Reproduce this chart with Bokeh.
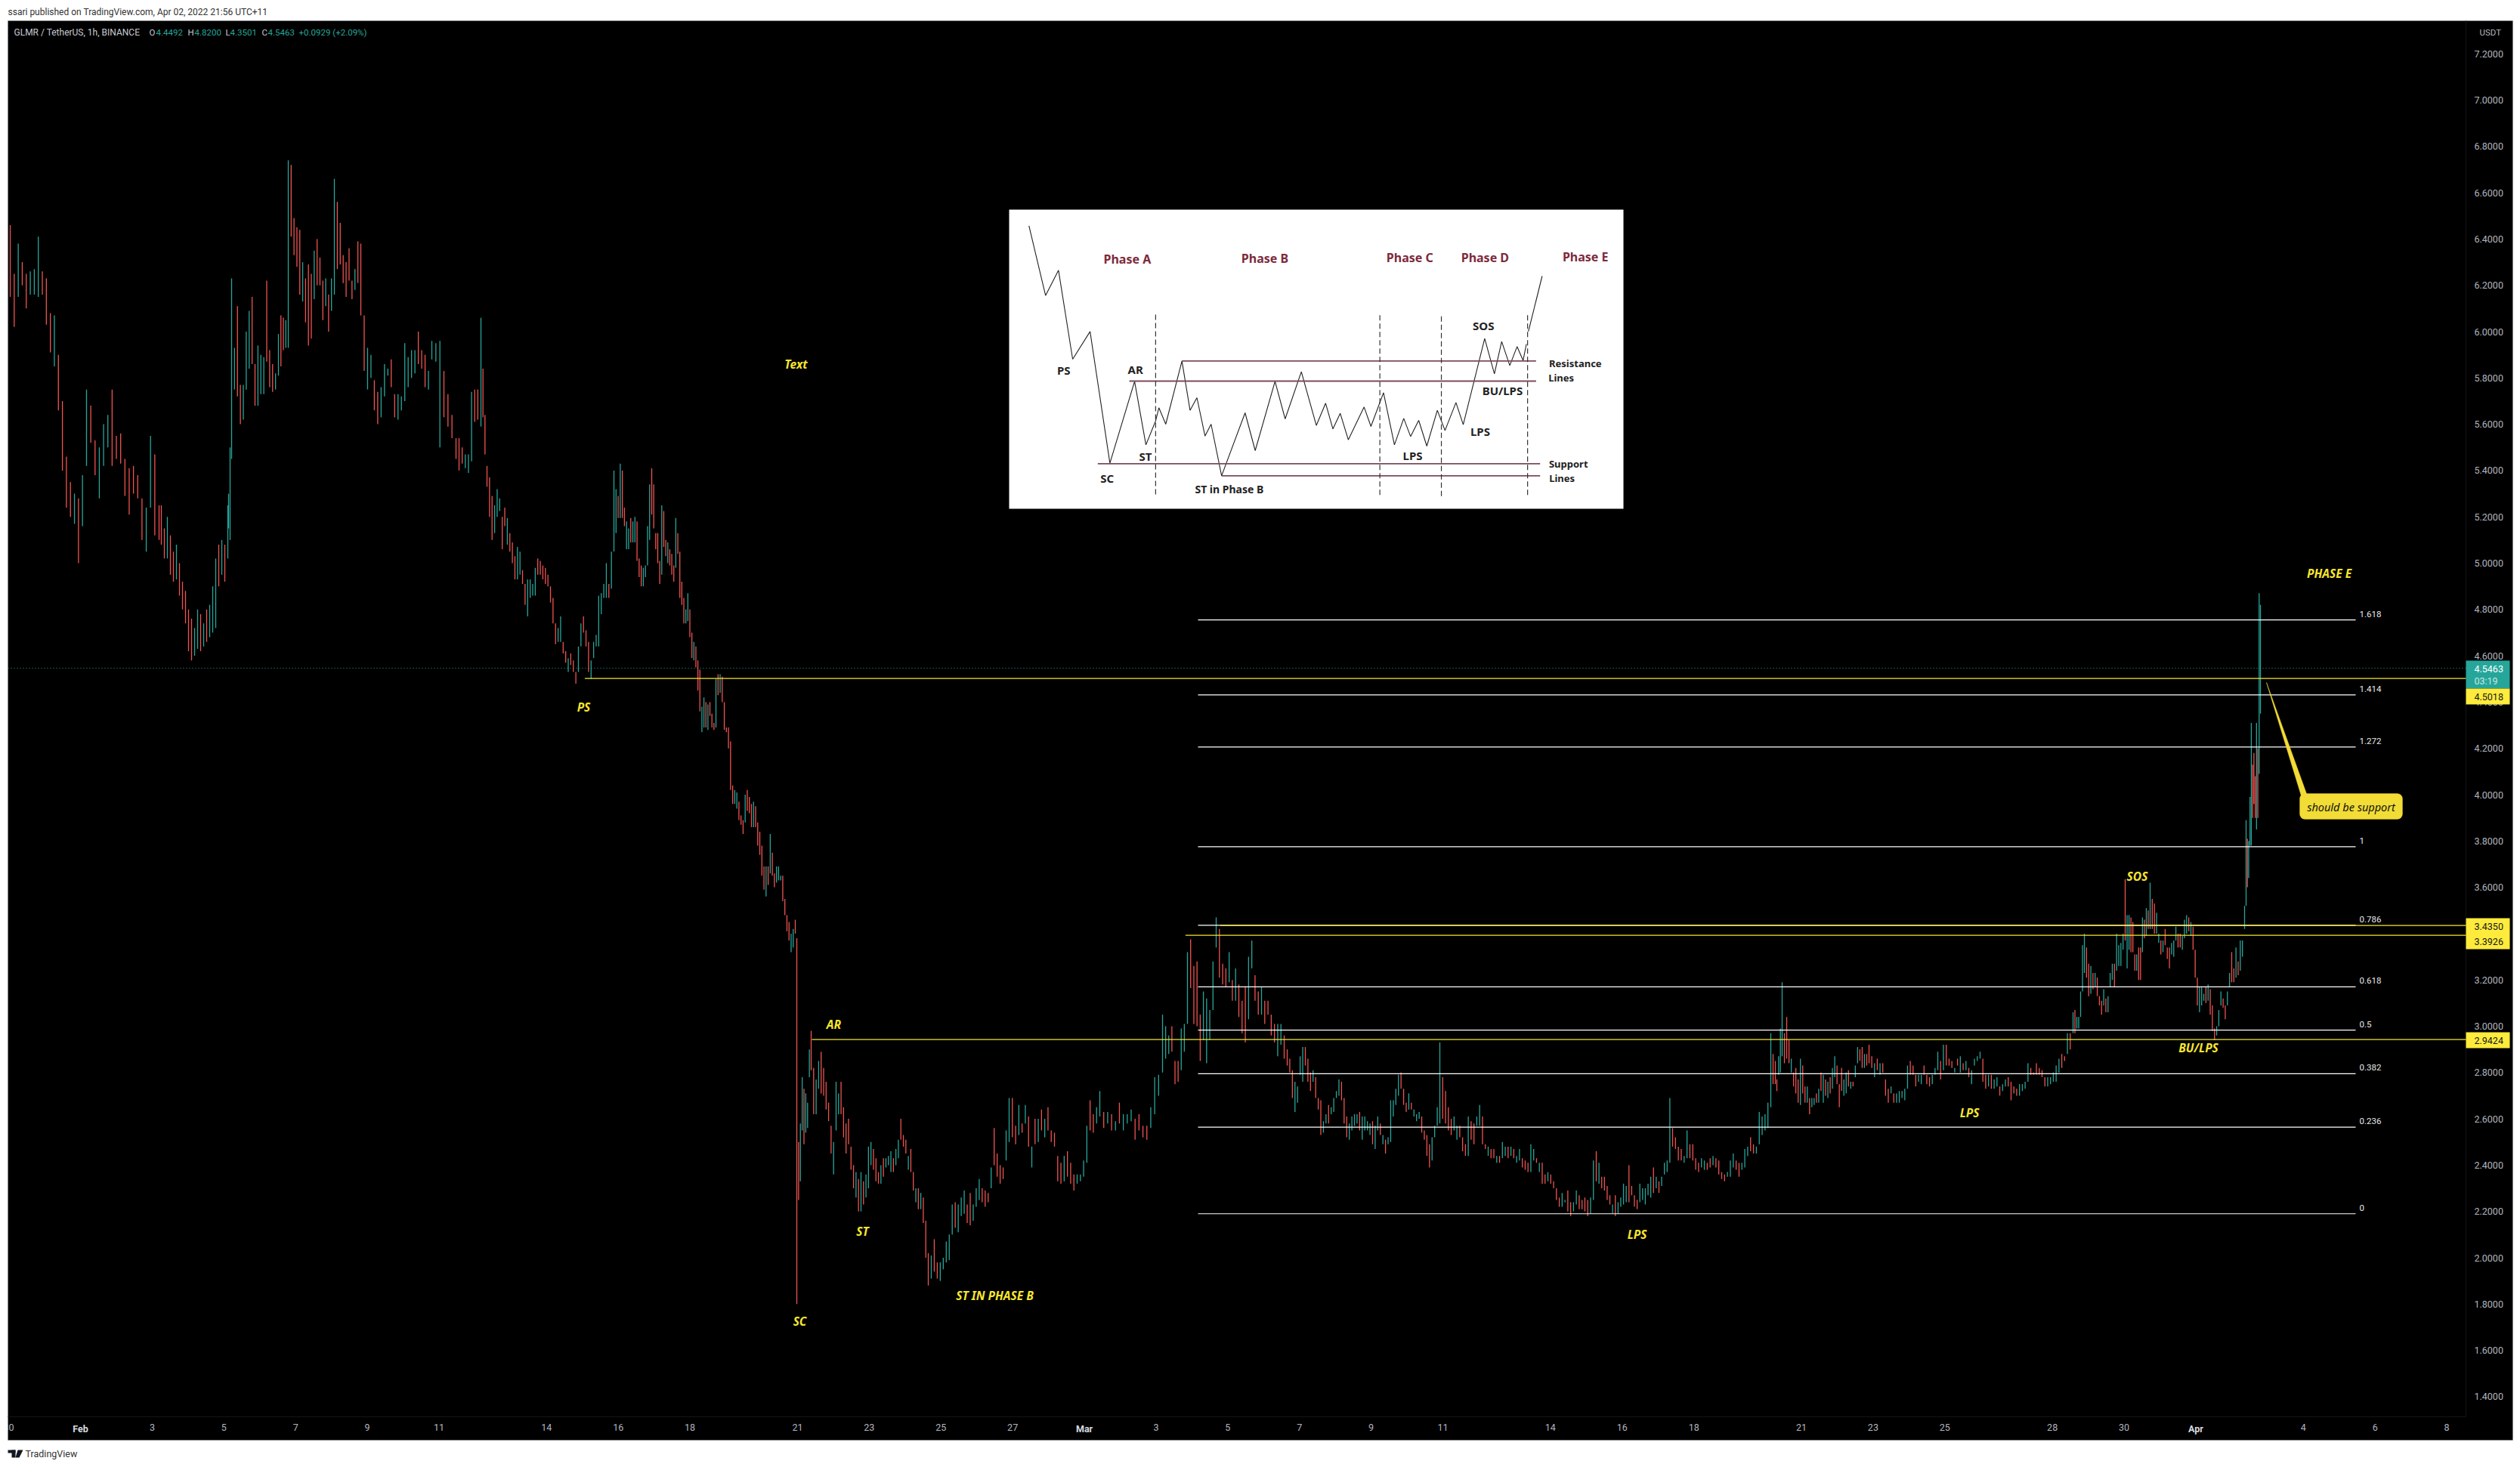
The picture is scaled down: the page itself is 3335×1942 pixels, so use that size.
import numpy as np
from bokeh.plotting import figure
from bokeh.models import (ColumnDataSource, BoxAnnotation, Label, FixedTicker, NumeralTickFormatter,
                          Range1d, PolyAnnotation)
from bokeh.embed import file_html
from bokeh.resources import INLINE
from bokeh.core.properties import value

# ---------- DATA: hourly chart read by eye, bars as (high, low, up) in price, hours since 1 Feb 00:00 ----------
seg_a = [(6.46,6.15,0),(6.25,6.02,0),(6.38,6.15,1),(6.30,6.20,0),(6.25,6.10,0),(6.26,6.16,1),(6.27,6.16,1),(6.41,6.15,1),(6.26,6.16,0),(6.23,6.03,0),(6.08,5.91,0),(6.07,5.85,1),(5.90,5.66,0),(5.70,5.40,0),(5.46,5.24,0),(5.35,5.20,0),(5.30,5.17,1),(5.28,5.00,0),(5.38,5.16,1),(5.75,5.42,1),(5.68,5.52,0),(5.53,5.38,0),(5.50,5.28,1),(5.60,5.42,1),(5.64,5.50,1),(5.75,5.42,0),(5.55,5.45,0),(5.56,5.43,0),(5.45,5.29,0),(5.41,5.21,0),(5.42,5.30,0),(5.38,5.28,0),(5.28,5.10,0),(5.24,5.05,1),(5.55,5.24,1),(5.47,5.12,0),(5.25,5.10,0)]
seg_b = [(5.25,5.08,0),(5.15,5.02,0),(5.20,5.02,1),(5.12,4.95,0),(5.05,4.92,0),(5.08,4.93,1),(5.00,4.86,0),(4.92,4.80,0),(4.88,4.74,0),(4.80,4.62,0),(4.76,4.58,0),(4.72,4.60,1),(4.80,4.63,1),(4.78,4.62,0),(4.74,4.64,1),(4.80,4.66,0),(4.82,4.68,1),(4.90,4.70,1),(5.02,4.72,1),(5.08,4.90,0),(5.10,4.95,1),(5.08,4.92,0),(5.25,5.02,1)]
seg_c = [(5.30,5.15,1),(5.50,5.10,1),(6.23,5.45,1),(5.93,5.75,1),(6.11,5.72,0),(5.77,5.60,0),(5.77,5.62,1),(6.00,5.75,1),(6.09,5.84,1),(6.15,5.86,0),(5.86,5.68,0),(5.94,5.68,1),(5.90,5.73,1),(5.89,5.73,1),(6.22,5.87,0),(5.92,5.76,0),(5.86,5.74,0),(5.82,5.75,1),(5.99,5.81,1),(6.07,5.85,0),(6.06,5.92,0),(6.05,5.93,1),(6.74,5.93,1),(6.72,6.41,0),(6.49,6.33,0),(6.45,6.28,0),(6.44,6.16,0),(6.30,6.13,1),(6.23,6.04,0),(6.29,5.94,0),(6.25,5.97,0),(6.35,6.14,1),(6.40,6.20,0),(6.32,6.20,0),(6.22,6.05,0),(6.23,6.11,1),(6.16,6.00,0),(6.23,6.09,1),(6.66,6.16,1),(6.56,6.27,0),(6.47,6.29,0),(6.33,6.21,0),(6.30,6.15,0),(6.36,6.22,0),(6.22,6.14,0),(6.27,6.18,1),(6.39,6.21,0),(6.38,6.07,0),(6.07,5.83,0),(5.93,5.75,1),(5.90,5.80,1),(5.79,5.66,0),(5.74,5.60,0),(5.76,5.63,1),(5.86,5.72,1),(5.84,5.81,1),(5.88,5.76,0),(5.73,5.63,0),(5.73,5.62,1),(5.72,5.66,1),(5.95,5.70,1),(5.89,5.76,1),(5.92,5.80,1),(5.92,5.82,1),(6.00,5.86,0),(5.92,5.84,0),(5.90,5.76,0),(5.83,5.75,1),(5.96,5.88,1),(5.95,5.87,1),(5.96,5.50,1),(5.83,5.63,0),(5.73,5.59,0),(5.64,5.54,0),(5.54,5.45,0)]
seg_d = [(5.54,5.40,0),(5.50,5.43,0),(5.47,5.41,1),(5.47,5.39,1),(5.74,5.44,1),(5.75,5.61,0),(5.75,5.62,0),(6.06,5.59,1),(5.84,5.63,0),(5.64,5.47,0),(5.42,5.33,0),(5.37,5.20,0),(5.29,5.10,0),(5.25,5.13,1),(5.32,5.20,1),(5.28,5.225,1),(5.20,5.06,0),(5.24,5.16,0),(5.195,5.08,1),(5.13,5.05,0),(5.09,5.00,0),(5.03,4.93,0),(5.07,4.93,1),(5.05,4.95,1),(4.97,4.91,0),(4.91,4.82,0),(4.93,4.77,1),(4.93,4.85,1),(4.91,4.86,1),(4.98,4.86,1),(5.02,4.95,0),(5.01,4.95,0),(4.99,4.93,0),(4.98,4.91,0),(4.95,4.90,0),(4.90,4.83,0),(4.85,4.74,0),(4.74,4.65,0),(4.72,4.66,1),(4.77,4.66,1),(4.66,4.61,0),(4.62,4.57,0),(4.59,4.53,1),(4.61,4.56,0),(4.58,4.53,0),(4.53,4.48,0),(4.64,4.53,1),(4.74,4.64,1),(4.77,4.70,0),(4.71,4.64,0),(4.66,4.53,0),(4.58,4.50,1),(4.66,4.59,1),(4.69,4.64,1),(4.86,4.64,1),(4.87,4.78,1),(4.91,4.85,1),(5.00,4.85,1),(4.91,4.85,0),(5.05,4.89,1),(5.40,5.05,1),(5.32,5.13,1),(5.29,5.195,0),(5.43,5.195,1),(5.40,5.195,0),(5.24,5.16,0),(5.18,5.06,1),(5.15,5.06,1),(5.195,5.09,0),(5.18,5.09,1),(5.20,5.09,1),(5.18,5.01,0),(5.02,4.94,0),(4.99,4.90,0),(4.98,4.90,1),(4.99,4.94,1),(5.16,4.99,1),(5.34,5.10,1),(5.41,5.21,0),(5.34,5.15,0),(5.13,5.06,0),(5.13,5.00,0),(5.01,4.91,0),(5.25,4.95,1),(5.225,5.07,0),(5.10,5.03,0),(5.09,5.00,1),(5.06,4.99,0),(5.04,4.95,0),(4.99,4.92,0),(5.195,4.98,1),(5.13,5.04,0),(5.05,4.85,0),(4.92,4.82,0),(4.85,4.74,0),(4.80,4.74,1),(4.87,4.75,1),(4.80,4.68,0),(4.70,4.59,0),(4.66,4.58,1),(4.64,4.55,0),(4.58,4.45,0),(4.54,4.36,0),(4.38,4.27,1),(4.42,4.29,1),(4.40,4.29,0),(4.39,4.28,1),(4.40,4.34,0),(4.35,4.29,0),(4.31,4.28,0),(4.50,4.29,1),(4.52,4.43,0),(4.52,4.44,1),(4.51,4.40,0),(4.40,4.28,0),(4.29,4.27,0),(4.29,4.20,0),(4.23,4.02,0),(4.04,3.96,0),(4.02,3.96,1),(4.01,3.94,1),(3.97,3.89,0),(3.91,3.87,0),(3.89,3.83,0),(4.00,3.88,1),(4.02,3.93,0),(3.99,3.92,0),(3.96,3.86,0),(3.97,3.86,1),(3.95,3.86,0),(3.88,3.78,0),(3.84,3.74,0),(3.78,3.65,0),(3.69,3.59,0),(3.69,3.56,1),(3.69,3.61,0),(3.83,3.66,1),(3.75,3.65,0),(3.66,3.60,0),(3.69,3.62,1),(3.69,3.63,1),(3.65,3.63,1),(3.65,3.54,0),(3.55,3.48,0),(3.48,3.41,0),(3.45,3.37,0),(3.40,3.32,1),(3.42,3.34,1),(3.46,3.40,0)]
seg_e = [(3.38,1.80,0),(2.50,2.25,0),(2.58,2.33,1),(2.78,2.55,1),(2.73,2.49,0),(2.71,2.54,1),(2.67,2.56,1),(2.90,2.78,1),(2.98,2.81,0),(2.82,2.62,0),(2.77,2.62,1),(2.85,2.73,1),(2.89,2.71,0),(2.82,2.70,0),(2.76,2.64,0),(2.67,2.59,0),(2.57,2.45,0),(2.50,2.36,1),(2.76,2.55,1),(2.71,2.62,1),(2.76,2.62,0),(2.65,2.52,0),(2.58,2.45,0),(2.60,2.49,0),(2.48,2.38,0),(2.40,2.30,0),(2.37,2.26,1),(2.34,2.20,0),(2.37,2.20,1),(2.33,2.23,0),(2.36,2.26,1),(2.48,2.30,1),(2.50,2.40,1),(2.47,2.38,0),(2.43,2.33,0),(2.37,2.32,0),(2.40,2.32,1),(2.43,2.35,0),(2.43,2.39,1),(2.44,2.40,1),(2.46,2.37,1),(2.43,2.37,0),(2.47,2.40,1),(2.51,2.43,1),(2.60,2.51,0),(2.53,2.48,0),(2.51,2.45,0),(2.44,2.38,1),(2.47,2.37,0),(2.37,2.29,0),(2.30,2.24,1),(2.30,2.21,0),(2.28,2.21,1),(2.26,2.15,0),(2.16,2.00,0),(2.02,1.88,0),(2.01,1.91,1),(2.08,1.94,0),(1.98,1.91,0),(1.98,1.90,1),(2.00,1.95,1),(2.07,1.98,1),(2.10,1.99,1),(2.23,2.10,1),(2.24,2.13,0),(2.23,2.11,1),(2.26,2.18,1),(2.29,2.19,1),(2.23,2.15,0),(2.28,2.14,0),(2.23,2.16,1),(2.30,2.22,1),(2.34,2.25,1),(2.30,2.24,0),(2.29,2.22,0),(2.28,2.24,0),(2.39,2.30,1),(2.56,2.40,0),(2.45,2.35,0),(2.40,2.32,0),(2.39,2.34,0),(2.55,2.42,1),(2.69,2.50,1),(2.69,2.52,0),(2.57,2.49,0),(2.66,2.53,1),(2.58,2.54,0),(2.66,2.58,1),(2.61,2.48,0),(2.48,2.39,1),(2.60,2.49,0),(2.60,2.50,1),(2.64,2.55,0),(2.60,2.52,1),(2.65,2.55,0),(2.55,2.50,0),(2.54,2.48,0),(2.44,2.33,0),(2.41,2.32,0),(2.44,2.33,1),(2.46,2.35,0),(2.41,2.32,0),(2.36,2.29,0),(2.36,2.32,1),(2.36,2.33,1),(2.42,2.35,1),(2.57,2.41,1),(2.68,2.55,0),(2.62,2.54,0),(2.65,2.58,1),(2.72,2.61,1),(2.63,2.56,0),(2.63,2.58,1),(2.62,2.55,0),(2.59,2.55,1),(2.67,2.58,0),(2.62,2.55,1),(2.62,2.58,1),(2.64,2.59,1),(2.60,2.51,0),(2.62,2.55,0),(2.57,2.52,0),(2.57,2.51,0),(2.65,2.56,1),(2.78,2.62,1),(2.79,2.70,1),(3.05,2.80,1),(3.00,2.86,1),(2.96,2.88,1),(3.00,2.89,0),(2.85,2.75,0),(2.85,2.76,0),(2.99,2.81,1),(3.01,2.89,1),(3.32,3.01,1),(3.375,3.165,0),(3.26,3.01,0),(3.28,3.00,0),(3.05,2.85,0),(3.15,2.94,1),(3.12,2.84,1),(3.07,2.94,1),(3.28,3.07,1),(3.47,3.34,1),(3.42,3.21,0),(3.27,3.18,0),(3.25,3.17,0),(3.32,3.19,1),(3.20,3.11,0),(3.25,3.11,1),(3.18,3.04,0),(3.11,2.97,0),(3.17,2.93,0),(3.30,3.03,1),(3.37,3.25,1),(3.22,3.11,0),(3.15,3.05,0),(3.17,3.05,1),(3.11,3.01,0),(3.11,3.05,0),(3.05,2.96,0),(3.01,2.93,0),(3.01,2.87,1),(3.01,2.92,1),(2.96,2.86,0)]
seg_f = [(2.90,2.83,0),(2.86,2.80,0),(2.81,2.69,0),(2.76,2.63,1),(2.74,2.67,1),(2.87,2.79,1),(2.91,2.76,1),(2.91,2.83,0),(2.86,2.76,0),(2.80,2.72,0),(2.81,2.76,1),(2.78,2.69,0),(2.69,2.64,0),(2.68,2.53,0),(2.59,2.54,1),(2.62,2.58,1),(2.66,2.58,0),(2.65,2.62,1),(2.69,2.63,1),(2.72,2.69,1),(2.77,2.70,1),(2.76,2.68,0),(2.69,2.58,0),(2.61,2.52,0),(2.58,2.51,1),(2.61,2.55,1),(2.62,2.57,1),(2.62,2.58,1),(2.63,2.55,0),(2.61,2.51,1),(2.61,2.55,1),(2.59,2.55,1),(2.58,2.53,1),(2.59,2.49,0),(2.57,2.47,1),(2.61,2.55,1),(2.58,2.53,0),(2.53,2.49,1),(2.51,2.45,0),(2.52,2.49,1),(2.68,2.50,1),(2.68,2.61,1),(2.73,2.66,1),(2.79,2.70,1),(2.80,2.73,0),(2.73,2.66,0),(2.67,2.63,0),(2.71,2.64,1),(2.67,2.64,0),(2.64,2.61,1),(2.62,2.59,1),(2.63,2.60,1),(2.61,2.54,0),(2.55,2.51,0),(2.53,2.44,0),(2.49,2.39,0),(2.52,2.42,1),(2.57,2.52,1),(2.65,2.57,1),(2.93,2.58,1),(2.78,2.60,0),(2.72,2.58,0),(2.65,2.55,0),(2.60,2.53,0),(2.61,2.55,1),(2.57,2.51,1),(2.57,2.52,0),(2.52,2.46,0),(2.49,2.44,0),(2.61,2.44,1),(2.59,2.51,0),(2.58,2.49,0),(2.61,2.57,1),(2.66,2.57,1),(2.61,2.49,0),(2.49,2.47,0),(2.48,2.44,1),(2.47,2.43,0),(2.47,2.43,0),(2.44,2.41,1),(2.44,2.41,0),(2.50,2.43,1),(2.48,2.44,1),(2.48,2.43,0),(2.48,2.44,1),(2.47,2.43,0),(2.44,2.41,1),(2.47,2.42,1),(2.43,2.39,0),(2.42,2.38,0),(2.41,2.37,0),(2.49,2.37,1),(2.47,2.42,1),(2.43,2.41,0),(2.41,2.37,1),(2.41,2.32,0),(2.36,2.32,0),(2.37,2.33,1),(2.36,2.32,0),(2.33,2.30,0),(2.30,2.25,0),(2.26,2.22,0),(2.28,2.22,1),(2.25,2.24,1),(2.29,2.20,0),(2.24,2.18,0),(2.24,2.20,1),(2.29,2.23,1),(2.27,2.21,0),(2.25,2.21,0),(2.26,2.20,0),(2.25,2.18,0),(2.26,2.19,1),(2.42,2.25,1),(2.46,2.33,0),(2.41,2.32,1),(2.35,2.30,0),(2.35,2.29,0),(2.31,2.25,0),(2.27,2.23,0),(2.23,2.19,1),(2.27,2.18,0),(2.24,2.19,1),(2.26,2.22,1),(2.32,2.23,1),(2.31,2.24,1),(2.40,2.24,0),(2.31,2.27,0),(2.27,2.22,0),(2.25,2.21,0),(2.32,2.24,1),(2.30,2.25,1),(2.30,2.23,1),(2.32,2.27,1),(2.35,2.26,1),(2.39,2.28,0),(2.35,2.30,1),(2.33,2.28,0),(2.35,2.31,1),(2.41,2.36,1),(2.42,2.37,1),(2.69,2.41,1),(2.56,2.48,0),(2.52,2.47,0),(2.48,2.42,0),(2.47,2.42,0),(2.44,2.41,1),(2.55,2.43,1),(2.49,2.43,0),(2.49,2.42,0),(2.43,2.38,0),(2.41,2.37,0),(2.43,2.39,1),(2.42,2.38,1),(2.41,2.38,0),(2.43,2.39,0),(2.44,2.40,1),(2.43,2.39,0),(2.42,2.36,0),(2.37,2.34,0),(2.36,2.33,0),(2.37,2.35,1),(2.42,2.35,1),(2.45,2.39,1),(2.42,2.38,0),(2.41,2.35,0),(2.41,2.38,1),(2.47,2.39,1),(2.48,2.44,1),(2.52,2.46,0),(2.49,2.45,0),(2.48,2.45,1),(2.63,2.49,1),(2.61,2.53,1),(2.62,2.55,1),(2.67,2.56,1),(2.97,2.65,1),(2.88,2.75,0),(2.85,2.75,0)]
seg_g = [(2.77,2.72,0),(2.87,2.79,1),(2.99,2.80,1),(3.19,2.87,1),(2.97,2.84,0),(3.04,2.86,0),(2.94,2.84,0),(2.86,2.80,1),(2.80,2.74,0),(2.82,2.71,0),(2.77,2.67,0),(2.86,2.66,1),(2.83,2.71,0),(2.74,2.67,0),(2.74,2.67,1),(2.69,2.62,0),(2.69,2.65,1),(2.69,2.66,1),(2.71,2.67,0),(2.73,2.67,1),(2.80,2.72,0),(2.79,2.67,1),(2.77,2.70,0),(2.76,2.69,1),(2.78,2.71,0),(2.82,2.73,1),(2.87,2.78,1),(2.83,2.75,0),(2.75,2.65,0),(2.82,2.72,0),(2.77,2.70,1),(2.80,2.71,1),(2.81,2.74,0),(2.76,2.73,1),(2.76,2.74,0),(2.83,2.78,1),(2.91,2.84,1),(2.90,2.85,0),(2.91,2.82,0),(2.88,2.82,1),(2.88,2.83,0),(2.92,2.84,0),(2.87,2.82,0),(2.84,2.78,1),(2.86,2.81,0),(2.84,2.79,1),(2.84,2.80,0),(2.77,2.70,0),(2.73,2.67,0),(2.74,2.71,1),(2.71,2.67,0),(2.71,2.67,1),(2.72,2.67,1),(2.72,2.69,1),(2.73,2.68,1),(2.83,2.73,1),(2.85,2.79,0),(2.83,2.79,0),(2.79,2.74,0),(2.79,2.76,1),(2.79,2.75,1),(2.83,2.79,0),(2.79,2.75,0),(2.78,2.74,0),(2.79,2.75,1),(2.82,2.79,1),(2.89,2.81,1),(2.85,2.77,0),(2.92,2.81,1),(2.92,2.83,0),(2.86,2.83,0),(2.85,2.82,0),(2.82,2.80,1),(2.86,2.83,0),(2.87,2.80,1),(2.84,2.81,0),(2.85,2.81,1),(2.82,2.78,0),(2.81,2.75,1),(2.86,2.83,1),(2.87,2.85,1),(2.89,2.86,1),(2.86,2.76,0),(2.79,2.73,0),(2.79,2.74,1),(2.79,2.73,0),(2.77,2.73,1),(2.78,2.74,1),(2.74,2.70,0),(2.75,2.72,1),(2.77,2.74,1),(2.78,2.74,0),(2.76,2.68,0),(2.74,2.71,0),(2.73,2.70,0),(2.75,2.70,1),(2.75,2.72,1),(2.76,2.73,1),(2.84,2.76,1),(2.82,2.79,0),(2.80,2.79,0),(2.84,2.79,0),(2.82,2.79,0),(2.81,2.78,0),(2.78,2.74,0),(2.78,2.74,1),(2.78,2.75,1),(2.80,2.76,1),(2.83,2.76,1),(2.86,2.80,1),(2.88,2.82,0),(2.87,2.85,0),(2.97,2.88,1),(2.97,2.90,0),(3.06,2.97,1),(3.07,2.97,0),(3.04,2.99,1),(3.04,2.99,1),(3.15,3.04,1),(3.35,3.15,1),(3.40,3.23,1),(3.34,3.21,0),(3.27,3.13,0),(3.26,3.14,1),(3.23,3.16,0),(3.23,3.17,1),(3.21,3.13,0),(3.13,3.09,0),(3.11,3.05,0),(3.16,3.09,1),(3.12,3.06,0),(3.13,3.06,1),(3.23,3.17,1),(3.27,3.20,1),(3.27,3.17,0),(3.40,3.24,1),(3.35,3.26,1),(3.36,3.26,1),(3.40,3.33,1),(3.635,3.37,0),(3.48,3.25,1),(3.48,3.33,1),(3.47,3.32,0),(3.45,3.32,0),(3.31,3.24,0),(3.31,3.24,1),(3.34,3.20,0),(3.34,3.20,0),(3.47,3.32,1),(3.46,3.38,0),(3.51,3.39,1),(3.50,3.42,0),(3.62,3.42,1),(3.55,3.42,0),(3.53,3.40,0),(3.49,3.40,1),(3.40,3.36,1),(3.37,3.31,0),(3.37,3.32,1),(3.42,3.35,0),(3.34,3.29,0),(3.34,3.25,0),(3.36,3.31,1),(3.37,3.30,1),(3.43,3.37,1),(3.40,3.34,0),(3.40,3.34,0),(3.39,3.33,1),(3.46,3.38,1),(3.48,3.40,1),(3.47,3.41,0),(3.45,3.39,1),(3.43,3.33,0),(3.33,3.21,0),(3.21,3.09,0),(3.17,3.06,1),(3.17,3.09,1),(3.14,3.11,1),(3.17,3.10,0),(3.18,3.11,1),(3.16,3.05,0),(3.09,2.98,0),(2.99,2.94,0),(3.00,2.96,1),(3.07,3.00,1),(3.15,3.09,1),(3.12,3.08,0),(3.09,3.03,0),(3.15,3.09,1),(3.23,3.17,1),(3.32,3.19,0),(3.25,3.19,0),(3.34,3.21,1),(3.28,3.22,0),(3.37,3.24,1),(3.37,3.30,1),(3.52,3.42,1)]
seg_h = [(3.89,3.52,1),(3.81,3.60,0),(3.80,3.64,1),(3.99,3.78,1),(4.31,3.78,1),(4.13,3.90,0),(4.18,3.96,0),(4.08,3.90,0),(4.31,3.85,1),(4.20,3.90,0),(4.87,4.09,1),(4.82,4.35,1)]

# where each run of bars sits: start/end page x, plus peaks located by their high (high, page x)
seg_span = [(13,210),(213,301),(302,603),(607,1052),(1054,1699),(1703,2349),(2351,2970),(2972,2991)]
seg_pins = [[(5.75,114)],[],[(6.23,306),(5.99,368),(6.74,381),(6.66,442),(6.38,477),(5.96,571)],
            [(6.06,636),(5.42,644),(5.40,812),(5.41,862),(4.50,947)],
            [(2.98,1073),(2.02,1228),(2.69,1335),(2.72,1455),(3.05,1538),(3.32,1571),(3.47,1609)],
            [(2.93,1905),(2.46,2112),(2.56,2213),(2.97,2343)],
            [(3.19,2358),(2.92,2473),(2.89,2564),(3.06,2743),(3.40,2758),(3.635,2812),(3.62,2845)],[]]

price_ticks = [1.4,1.6,1.8,2.0,2.2,2.4,2.6,2.8,3.0,3.2,3.4,3.6,3.8,4.0,4.2,4.4,4.6,4.8,5.0,5.2,5.4,5.6,5.8,6.0,6.2,6.4,6.6,6.8,7.0,7.2]
time_hours = [-48,48,96,144,192,240,312,360,408,480,528,576,624,720,768,816,864,912,984,1032,1080,1152,1200,1248,1320,1368,1488,1536,1584]
time_labels = ["30","3","5","7","9","11","14","16","18","21","23","25","27","3","5","7","9","11","14","16","18","21","23","25","28","30","4","6","8"]
month_hours = [0,672,1416]
month_labels = ["Feb","Mar","Apr"]
fib_levels = ["0","0.236","0.382","0.5","0.618","0.786","1","1.272","1.414","1.618"]
fib_prices = [2.19,2.564,2.795,2.983,3.17,3.436,3.775,4.206,4.431,4.755]
key_prices = [4.5018,3.435,3.3926,2.9424]
key_starts = [337.6,763,739.7,489.6]
last_price = 4.5463

# inset sketch, read in the sketch's own pixels
inset_path_x = [77,118,150,185,228,277,338,366,390,398,415,455,475,492,512,527,553,611,636,685,710,750,787,810,828,846,866,905,922,953,980,1003,1020,1040,1060,1086,1105,1132,1150,1203,1227,1245,1265,1283,1298,1306]
inset_path_y = [115,392,292,645,535,1058,733,985,890,838,903,652,848,798,950,903,1108,858,1008,733,882,695,908,820,922,860,965,835,912,778,985,880,952,888,990,848,928,817,905,563,703,575,670,595,650,585]
inset_rise_x = [1311,1345]
inset_rise_y = [535,315]
inset_levels = [(455,1330,652),(325,1330,732),(247,1340,1060),(553,1340,1108)]
inset_dashes = [(390,468,1185),(944,470,1190),(1096,475,1195),(1309,470,1195)]

# ---------- page pixel <-> data helpers for annotation placement ----------
PX_FEB1, PX_PER_H = 106.0, 1.977
PY_5, PY_PER_USD = 745.0, 306.5
def hx(px): return (px - PX_FEB1) / PX_PER_H
def py(y): return 5 - (y - PY_5) / PY_PER_USD
def ix(v): return hx(1320 + v / 1.867)
def iy(v): return py(260 + v / 3)

BLACK_BG = "#000000"; TEAL = "#26a69a"; RED = "#ef5350"; YEL = "#f7e62e"; TAG = "#ffeb3b"; AXTXT = "#b2b5be"
FONT = "Roboto"
W, H = 3330, 1935

p = figure(width=W, height=H, x_range=Range1d(hx(0), hx(W)), y_range=Range1d(py(H), py(0)),
           y_axis_location="right", output_backend="svg", toolbar_location=None,
           min_border=0, background_fill_color="white", border_fill_color="white", outline_line_color=None)
p.grid.visible = False

# pane background
p.add_layout(BoxAnnotation(left=hx(10), right=hx(3325), top=py(27), bottom=py(1906),
                           fill_color=BLACK_BG, fill_alpha=1, line_color="#9598a1", line_width=1, level="underlay"))

ax = p.yaxis[0]
ax.fixed_location = hx(3263)
ax.ticker = FixedTicker(ticks=price_ticks)
ax.formatter = NumeralTickFormatter(format="0.0000")
ax.major_label_text_color = AXTXT; ax.major_label_text_font = FONT; ax.major_label_text_font_size = "12.5px"
ax.major_label_standoff = 11; ax.major_tick_line_color = None; ax.minor_tick_line_color = None
ax.major_tick_out = 0; ax.major_tick_in = 0; ax.axis_line_color = None

bx = p.xaxis[0]
bx.fixed_location = py(1875)
bx.ticker = FixedTicker(ticks=time_hours)
bx.major_label_overrides = {h: l for h, l in zip(time_hours, time_labels)}
bx.major_label_text_color = AXTXT; bx.major_label_text_font = FONT; bx.major_label_text_font_size = "12.5px"
bx.major_label_standoff = 9; bx.major_tick_line_color = None; bx.minor_tick_line_color = None
bx.major_tick_out = 0; bx.major_tick_in = 0; bx.axis_line_color = None

# faint separators of the two axes
p.line([hx(10), hx(3263), hx(3263)], [py(1875), py(1875), py(27)], line_color="#141414", line_width=1)

# bars
xs, hi, lo, col = [], [], [], []
for seg, (x0, x1), pins in zip([seg_a, seg_b, seg_c, seg_d, seg_e, seg_f, seg_g, seg_h], seg_span, seg_pins):
    highs = [s[0] for s in seg]
    idx, pos = [0], [x0]
    for val, x in pins:
        i = highs.index(val)
        if i > idx[-1]:
            idx.append(i); pos.append(x)
        elif i == 0:
            pos[0] = x
    if idx[-1] != len(seg) - 1:
        idx.append(len(seg) - 1); pos.append(x1)
    page_x = np.interp(np.arange(len(seg)), idx, pos)
    for (a, b, u), x in zip(seg, page_x):
        xs.append(hx(x)); hi.append(a); lo.append(b); col.append(TEAL if u else RED)
src = ColumnDataSource(dict(x=xs, hi=hi, lo=lo, c=col))
p.segment("x", "lo", "x", "hi", source=src, line_color="c", line_width=1.3)

# last price dotted line
p.line([hx(10), hx(3263)], [last_price, last_price], line_color=TEAL, line_width=1, line_dash="1 3")

# fib
fib_x0, fib_x1 = hx(1585), hx(3117)
p.segment([fib_x0]*len(fib_prices), fib_prices, [fib_x1]*len(fib_prices), fib_prices, line_color="#ffffff", line_width=1.2)
p.text([hx(3122)]*len(fib_prices), fib_prices, text=fib_levels, text_font=value(FONT), text_font_size="11.5px",
       text_color="#e8e8e8", text_baseline="middle", y_offset=-8)

# yellow levels
p.segment(key_starts, key_prices, [hx(3263)]*4, key_prices, line_color=YEL, line_width=1.3)

def lab(x, y, t, size, color, style="normal", align="left", base="middle", font=FONT):
    p.add_layout(Label(x=hx(x), y=py(y), text=t, text_font=font, text_font_size=f"{size}px", text_color=color,
                       text_font_style=style, text_align=align, text_baseline=base))

# annotations (yellow italic)
for x, y, t in [(772,935,"PS"),(1103,1355,"AR"),(1058,1748,"SC"),(1141,1629,"ST"),(1316,1714,"ST IN PHASE B"),
                (2166,1633,"LPS"),(2606,1472,"LPS"),(2909,1386,"BU/LPS"),(2828,1159,"SOS"),(3082,758,"PHASE E"),(1053,481,"Text")]:
    lab(x, y, t, 15.5, YEL, "bold italic", "center", font="Noto Sans")

# callout
p.patch([hx(2999), hx(3045), hx(3053)], [py(903), py(1053), py(1053)], fill_color="#f2dc36", line_color="#f2dc36", line_width=0.5)
p.add_layout(BoxAnnotation(left=hx(3043), right=hx(3179), top=py(1050), bottom=py(1084), fill_color="#f2dc36", fill_alpha=1,
                           line_color="#f2dc36", border_radius=7))
lab(3111, 1067, "should be support", 14.5, "#111111", "italic", "center", font="Noto Sans")

# inset
p.quad(left=[hx(1335)], right=[hx(2148)], top=[py(277)], bottom=[py(673)], fill_color="white", line_color=None)
p.line([ix(v) for v in inset_path_x], [iy(v) for v in inset_path_y], line_color="#222222", line_width=1.1)
p.line([ix(v) for v in inset_rise_x], [iy(v) for v in inset_rise_y], line_color="#222222", line_width=1.1)
for a, b, y in inset_levels:
    p.line([ix(a), ix(b)], [iy(y), iy(y)], line_color="#7b4a5c", line_width=1.8)
for x, a, b in inset_dashes:
    p.line([ix(x), ix(x)], [iy(a), iy(b)], line_color="#333333", line_width=1.2, line_dash="7 4")
def ilab(xz, yz, t, size, color, style="bold"):
    p.add_layout(Label(x=ix(xz), y=iy(yz), text=t, text_font="Noto Sans", text_font_size=f"{size}px", text_color=color,
                       text_font_style=style, text_align="center", text_baseline="middle"))
for xz, yz, t in [(320,248,"Phase A"),(660,245,"Phase B"),(1018,240,"Phase C"),(1204,240,"Phase D"),(1452,237,"Phase E")]:
    ilab(xz, yz, t, 16, "#7d2a3c")
for xz, yz, t in [(163,688,"PS"),(340,685,"AR"),(365,1030,"ST"),(270,1117,"SC"),(1025,1027,"LPS"),(1192,930,"LPS"),(1200,512,"SOS"),(1247,770,"BU/LPS")]:
    ilab(xz, yz, t, 15, "#222222")
ilab(572, 1160, "ST in Phase B", 14, "#222222")
for xz, yz, t in [(1427,662,"Resistance"),(1392,718,"Lines"),(1410,1060,"Support"),(1394,1116,"Lines")]:
    ilab(xz, yz, t, 13, "#222222")

# price tags
for top, bot, c in [(874,911,TEAL),(911,932,TAG),(1215,1256,TAG),(1366,1387,TAG)]:
    p.add_layout(BoxAnnotation(left=hx(3263), right=hx(3321), top=py(top), bottom=py(bot), fill_color=c, fill_alpha=1, line_color=None))
lab(3274, 885, "4.5463", 12.5, "#ffffff")
lab(3274, 901, "03:19", 12.5, "#c8e6e2")
lab(3274, 922, "4.5018", 12.5, "#131722")
lab(3274, 1226, "3.4350", 12.5, "#131722")
lab(3274, 1246, "3.3926", 12.5, "#131722")
lab(3274, 1377, "2.9424", 12.5, "#131722")
lab(3281, 42, "USDT", 11.5, AXTXT)

# months (bold axis labels)
for h, t in zip(month_hours, month_labels):
    p.add_layout(Label(x=h, y=py(1891), text=t, text_font=FONT, text_font_size="12.5px", text_color="#d8dae0",
                       text_font_style="bold", text_align="center", text_baseline="middle"))

# keep the clipped "30" inside the pane
p.add_layout(BoxAnnotation(left=hx(0), right=hx(9.5), top=py(1875), bottom=py(1906), fill_color="white", fill_alpha=1, line_color=None))

# header
lab(10, 15, "ssari published on TradingView.com, Apr 02, 2022 21:56 UTC+11", 12, "#333333")
lab(18, 42, "GLMR / TetherUS, 1h, BINANCE", 12, "#c8cad0")
for x, t in [(197,"O"),(248,"H"),(298,"L"),(346,"C")]:
    lab(x, 42, t, 11.5, "#c8cad0")
for x, t in [(206,"4.4492"),(257,"4.8200"),(304,"4.3501"),(354,"4.5463"),(395,"+0.0929 (+2.09%)")]:
    lab(x, 42, t, 11.5, TEAL)

# footer logo
for l, r, t, b in [(10,20,1919,1923),(15,20,1919,1929)]:
    p.add_layout(BoxAnnotation(left=hx(l), right=hx(r), top=py(t), bottom=py(b), fill_color="#131722", fill_alpha=1, line_color=None))
p.add_layout(PolyAnnotation(xs=[hx(23),hx(30),hx(25),hx(20)], ys=[py(1919),py(1919),py(1929),py(1929)], fill_color="#131722", fill_alpha=1, line_color=None))
lab(33, 1924, "TradingView", 12.5, "#333333")

open("out.html", "w").write(file_html(p, INLINE))
